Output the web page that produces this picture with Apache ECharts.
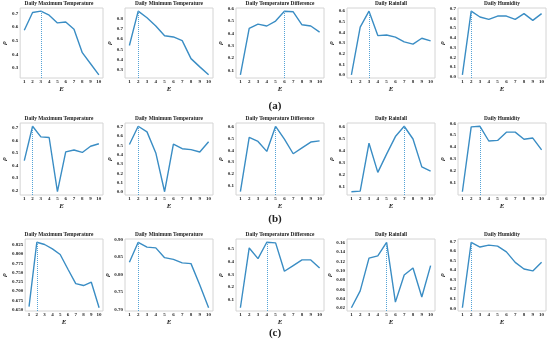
<!DOCTYPE html>
<html>
<head>
<meta charset="utf-8">
<script src="https://cdn.jsdelivr.net/npm/echarts@6/dist/echarts.min.js"></script>
<style>html,body{margin:0;padding:0;background:#fff}#c{width:550px;height:344px}</style>
</head>
<body>
<div id="c"></div>
<script>
// ---- data ----
const E = ['1','2','3','4','5','6','7','8','9','10'];
const titles = ['Daily Maximum Temperature','Daily Minimum Temperature','Daily Temperature Difference','Daily Rainfall','Daily Humidity'];
const rowLabels = ['(a)','(b)','(c)'];

const a_maxT  = [0.577,0.707,0.717,0.688,0.631,0.638,0.585,0.413,0.332,0.251];
const a_minT  = [0.537,0.870,0.806,0.727,0.632,0.620,0.585,0.410,0.330,0.253];
const a_diffT = [0.065,0.440,0.475,0.460,0.500,0.580,0.575,0.470,0.460,0.410];
const a_rain  = [0.000,0.450,0.600,0.370,0.375,0.355,0.310,0.290,0.345,0.320];
const a_hum   = [0.020,0.675,0.615,0.590,0.625,0.625,0.590,0.650,0.580,0.650];

const b_maxT  = [0.440,0.715,0.630,0.625,0.190,0.510,0.525,0.505,0.555,0.575];
const b_minT  = [0.510,0.705,0.645,0.420,0.005,0.515,0.465,0.455,0.430,0.540];
const b_diffT = [0.045,0.510,0.475,0.390,0.605,0.495,0.370,0.420,0.470,0.480];
const b_rain  = [0.060,0.065,0.460,0.220,0.370,0.515,0.600,0.495,0.265,0.230];
const b_hum   = [0.020,0.570,0.575,0.450,0.455,0.525,0.525,0.465,0.475,0.375];

const c_maxT  = [0.658,0.832,0.826,0.814,0.799,0.759,0.720,0.715,0.724,0.655];
const c_minT  = [0.835,0.892,0.878,0.876,0.848,0.843,0.833,0.831,0.770,0.705];
const c_diffT = [0.035,0.510,0.425,0.555,0.550,0.325,0.370,0.415,0.415,0.350];
const c_rain  = [0.021,0.057,0.127,0.132,0.161,0.033,0.091,0.106,0.044,0.111];
const c_hum   = [0.005,0.690,0.640,0.660,0.650,0.590,0.480,0.410,0.390,0.480];

// best E (vertical dotted marker)
const a_best = [3,2,6,3,2];
const b_best = [2,2,5,7,3];
const c_best = [2,2,4,5,2];

// y tick labels
const t1 = ['0.1','0.2','0.3','0.4','0.5','0.6'];
const a_ticks = [['0.3','0.4','0.5','0.6','0.7'], ['0.3','0.4','0.5','0.6','0.7','0.8'], t1, ['0.0','0.1','0.2','0.3','0.4','0.5','0.6'], ['0.0','0.1','0.2','0.3','0.4','0.5','0.6','0.7']];
const b_ticks = [['0.2','0.3','0.4','0.5','0.6','0.7'], ['0.0','0.1','0.2','0.3','0.4','0.5','0.6','0.7'], t1, t1, t1];
const c_ticks = [['0.650','0.675','0.700','0.725','0.750','0.775','0.800','0.825'], ['0.70','0.75','0.80','0.85','0.90'], ['0.1','0.2','0.3','0.4','0.5'], ['0.02','0.04','0.06','0.08','0.10','0.12','0.14','0.16'], ['0.0','0.1','0.2','0.3','0.4','0.5','0.6','0.7']];

// ---- layout ----
const rows = [
  {vals:[a_maxT,a_minT,a_diffT,a_rain,a_hum], best:a_best, ticks:a_ticks},
  {vals:[b_maxT,b_minT,b_diffT,b_rain,b_hum], best:b_best, ticks:b_ticks},
  {vals:[c_maxT,c_minT,c_diffT,c_rain,c_hum], best:c_best, ticks:c_ticks}
];
const lefts = [15,125,236,347,458];
const W = 88;
const tops = [8,123,239];
const H = [70,72,72];
const labelY = [106,219,333];
const FONT = '"Liberation Serif","Times New Roman",serif';
const COLOR = '#3a8dc4';
const VCOLOR = '#55a3d6';

const grid=[], xAxis=[], yAxis=[], series=[], graphic=[];
rows.forEach((row, r) => {
  row.vals.forEach((vals, p) => {
    const gi = r*5+p;
    const lo = Math.min(...vals), hi = Math.max(...vals);
    const pad = (hi-lo)*0.05;
    const ymin = lo-pad, ymax = hi+pad;
    const tl = row.ticks[p];
    const tv = tl.map(Number);
    const maxLen = Math.max(...tl.map(s=>s.length));
    grid.push({left:lefts[p], top:tops[r], width:W, height:H[r], show:true, borderColor:'#d4d4d4', borderWidth:1});
    xAxis.push({type:'category', gridIndex:gi, data:E, boundaryGap:true,
      axisLine:{show:false}, axisTick:{show:false}, splitLine:{show:false},
      axisLabel:{interval:0, fontSize:5, fontWeight:'bold', fontFamily:FONT, color:'#222', margin:1.5},
      name:'E', nameLocation:'middle', nameGap:8,
      nameTextStyle:{fontSize:7, fontStyle:'italic', fontWeight:'bold', fontFamily:FONT, color:'#222'}});
    yAxis.push({type:'value', gridIndex:gi, min:ymin, max:ymax,
      axisLine:{show:false}, axisTick:{show:false}, splitLine:{show:false},
      axisLabel:{customValues:tv, fontSize:5, fontWeight:'bold', fontFamily:FONT, color:'#222', margin:2,
        formatter:(v)=>{const i=tv.findIndex(t=>Math.abs(t-v)<1e-9); return i>=0?tl[i]:'';}},
      name:'ρ', nameLocation:'middle', nameRotate:90, nameGap:4+maxLen*2.6,
      nameTextStyle:{fontSize:7, fontStyle:'italic', fontWeight:'bold', fontFamily:FONT, color:'#222'}});
    const b = row.best[p]-1;
    const mlStyle = {type:[1,1], width:1, color:VCOLOR};
    series.push({type:'line', xAxisIndex:gi, yAxisIndex:gi, data:vals, symbol:'none', color:COLOR,
      lineStyle:{width:1.4, color:COLOR}, itemStyle:{color:COLOR},
      markLine:{silent:true, symbol:['none','none'], label:{show:false},
        lineStyle:mlStyle, itemStyle:{color:VCOLOR},
        emphasis:{disabled:true},
        data:[[{coord:[b, ymin], lineStyle:mlStyle},{coord:[b, vals[b]]}]]}});
    graphic.push({type:'text', x:lefts[p]+W/2, y:tops[r]-1.5,
      style:{text:titles[p], textAlign:'center', textVerticalAlign:'bottom',
        font:'bold 5.4px '+FONT, fill:'#222'}});
  });
  graphic.push({type:'text', x:275, y:labelY[r],
    style:{text:rowLabels[r], textAlign:'center', textVerticalAlign:'middle',
      font:'bold 11px '+FONT, fill:'#222'}});
});

const chart = echarts.init(document.getElementById('c'), null, {renderer:'canvas'});
chart.setOption({animation:false, backgroundColor:'#fff', grid, xAxis, yAxis, series, graphic});
</script>
</body>
</html>
